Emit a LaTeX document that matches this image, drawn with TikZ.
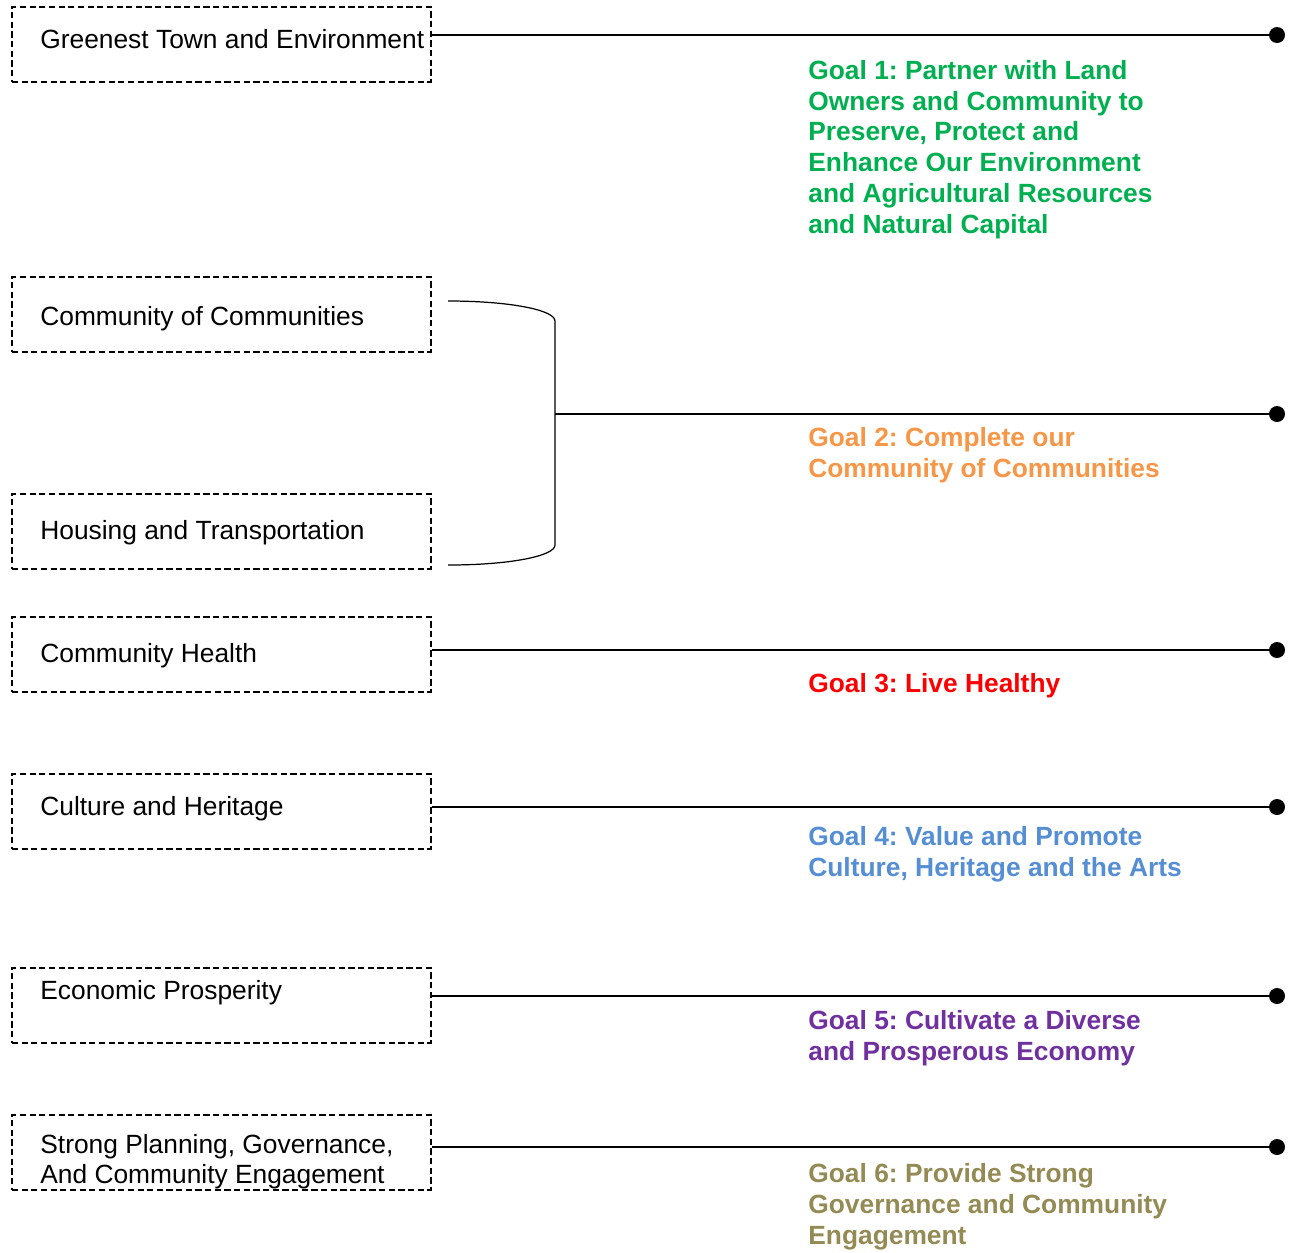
\documentclass[tikz,border=0pt]{standalone}
\usepackage{fontspec}
\setmainfont{Liberation Sans}
\frenchspacing

\definecolor{goalgreen}{HTML}{00B050}
\definecolor{goalorange}{HTML}{F79646}
\definecolor{goalred}{HTML}{FF0000}
\definecolor{goalblue}{HTML}{558ED5}
\definecolor{goalpurple}{HTML}{7030A0}
\definecolor{goalolive}{HTML}{948A54}

\tikzset{
	area/.style = {draw, dash pattern = on 3.5pt off 2pt, line width = 1pt, minimum width = 8.38cm, minimum height = 1.5cm, anchor = north west, inner sep = 0},
	areatext/.style = {anchor = base west, align = left, inner sep = 0, font = \fontsize{15}{17}\selectfont},
	goal/.style = {anchor = base west, align = left, inner sep = 0, font = \fontsize{15}{17.5}\selectfont\bfseries},
	dot/.style = {circle, fill, inner sep = 0, minimum size = 0.32cm},
	link/.style = {line width = 0.7pt}
}

\begin{document}
\begin{tikzpicture}[x = 0.02cm, y = -0.02cm]
	\useasboundingbox (0,0) rectangle (1293,1252);

	\node[area] (green) at (11,6) {};
	\node[area] (commun) at (11,276) {};
	\node[area] (housing) at (11,493) {};
	\node[area] (health) at (11,616) {};
	\node[area] (culture) at (11,773) {};
	\node[area] (economy) at (11,967) {};
	\node[area] (planning) at (11,1114) {};

	% base anchor = last line of the text
	\node[areatext] (greentext) at (40,48) {Greenest Town and Environment};
	\node[areatext] (communtext) at (40,325) {Community of Communities};
	\node[areatext] (housingtext) at (40,539) {Housing and Transportation};
	\node[areatext] (healthtext) at (40,662) {Community Health};
	\node[areatext] (culturetext) at (40,815) {Culture and Heritage};
	\node[areatext] (economytext) at (40,999) {Economic Prosperity};
	\node[areatext] (planningtext) at (40,1183) {Strong Planning, Governance,\\And Community Engagement};

	\node[dot] (d1) at (1277,35) {};
	\node[dot] (d2) at (1277,414) {};
	\node[dot] (d3) at (1277,650) {};
	\node[dot] (d4) at (1277,807) {};
	\node[dot] (d5) at (1277,996) {};
	\node[dot] (d6) at (1277,1147) {};

	\node[goal, text = goalgreen] (goal1) at (808,233) {Goal 1: Partner with Land\\Owners and Community to\\Preserve, Protect and\\Enhance Our Environment\\and Agricultural Resources\\and Natural Capital};
	\node[goal, text = goalorange] (goal2) at (808,477) {Goal 2: Complete our\\Community of Communities};
	\node[goal, text = goalred] (goal3) at (808,692) {Goal 3: Live Healthy};
	\node[goal, text = goalblue] (goal4) at (808,876) {Goal 4: Value and Promote\\Culture, Heritage and the Arts};
	\node[goal, text = goalpurple] (goal5) at (808,1060) {Goal 5: Cultivate a Diverse\\and Prosperous Economy};
	\node[goal, text = goalolive] (goal6) at (808,1244) {Goal 6: Provide Strong\\Governance and Community\\Engagement};

	\coordinate (bracetop) at (448,301);
	\coordinate (bracebottom) at (448,565);
	\coordinate (bracemid) at (555,414);

	\draw[link] (green.east |- d1) -- (d1);
	\draw[link] (bracetop) .. controls (510,301) and (555,310) .. (555,321) -- (555,545) .. controls (555,556) and (510,565) .. (bracebottom);
	\draw[link] (bracemid) -- (d2);
	\draw[link] (health.east |- d3) -- (d3);
	\draw[link] (culture.east |- d4) -- (d4);
	\draw[link] (economy.east |- d5) -- (d5);
	\draw[link] (planning.east |- d6) -- (d6);
\end{tikzpicture}
\end{document}
